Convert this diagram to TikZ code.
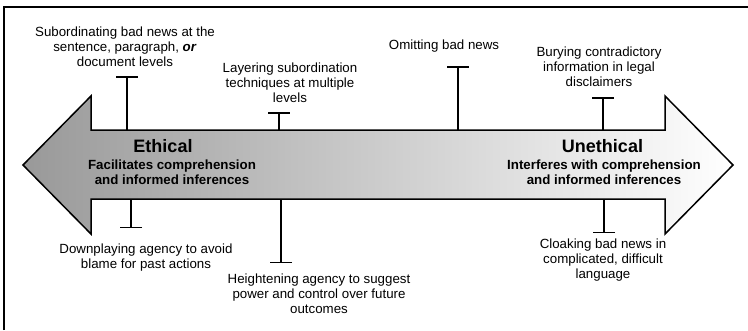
\documentclass[tikz,border=0pt]{standalone}
\usepackage{fontspec}
\setmainfont{Liberation Sans}
\usetikzlibrary{arrows.meta}
\begin{document}
\begin{tikzpicture}[x=1pt,y=-1pt,
  lbl/.style={inner sep=0pt, align=center, anchor=north, font=\fontsize{13.3}{15}\selectfont},
  sublbl/.style={inner sep=0pt, align=center, anchor=north, font=\fontsize{13.3}{15}\selectfont\bfseries},
  ttl/.style={inner sep=0pt, anchor=base, font=\fontsize{18}{20}\selectfont\bfseries},
  tbar/.style={line width=1.5pt, -{Bar[width=22pt]}},
  bigarrow/.style={line width=1.5pt, line join=miter, left color=black!40, right color=white},
  frame/.style={line width=2.5pt}
  ]
\useasboundingbox (0,0) rectangle (748,330);
% frame (top and left only)
\draw[frame] (4,330) -- (4,7) -- (748,7);
% double-headed arrow
\draw[bigarrow] (23,165) -- (91,96) -- (91,130) -- (665,130) -- (665,96) -- (733,165)
  -- (665,234) -- (665,199) -- (91,199) -- (91,234) -- cycle;
% titles
\node[ttl] (eth) at (163,152) {Ethical};
\node[sublbl] (ethsub) at (172,159.4) {Facilitates comprehension\\and informed inferences};
\node[ttl] (uneth) at (602.5,152) {Unethical};
\node[sublbl] (unethsub) at (604,159.4) {Interferes with comprehension\\and informed inferences};
% stem coordinates
\coordinate (b1) at (127,130); \coordinate (e1) at (127,76);
\coordinate (b2) at (279,130); \coordinate (e2) at (279,112);
\coordinate (b3) at (458,130); \coordinate (e3) at (458,66);
\coordinate (b4) at (603,130); \coordinate (e4) at (603,97);
\coordinate (b5) at (131,199); \coordinate (e5) at (131,228);
\coordinate (b6) at (281,199); \coordinate (e6) at (281,263);
\coordinate (b7) at (604,199); \coordinate (e7) at (604,233);
\foreach \i in {1,...,7} {\draw[tbar] (b\i) -- (e\i);}
% labels
\node[lbl] (l1) at (125,26.4) {Subordinating bad news at the\\sentence, paragraph, \textbf{\textit{or}}\\document levels};
\node[lbl] (l2) at (290,62.4) {Layering subordination\\techniques at multiple\\levels};
\node[lbl] (l3) at (444,39.4) {Omitting bad news};
\node[lbl] (l4) at (599,46.4) {Burying contradictory\\information in legal\\disclaimers};
\node[lbl] (l5) at (146,243.4) {Downplaying agency to avoid\\blame for past actions};
\node[lbl] (l6) at (319,273.4) {Heightening agency to suggest\\power and control over future\\outcomes};
\node[lbl] (l7) at (603,238.4) {Cloaking bad news in\\complicated, difficult\\language};
\end{tikzpicture}
\end{document}
